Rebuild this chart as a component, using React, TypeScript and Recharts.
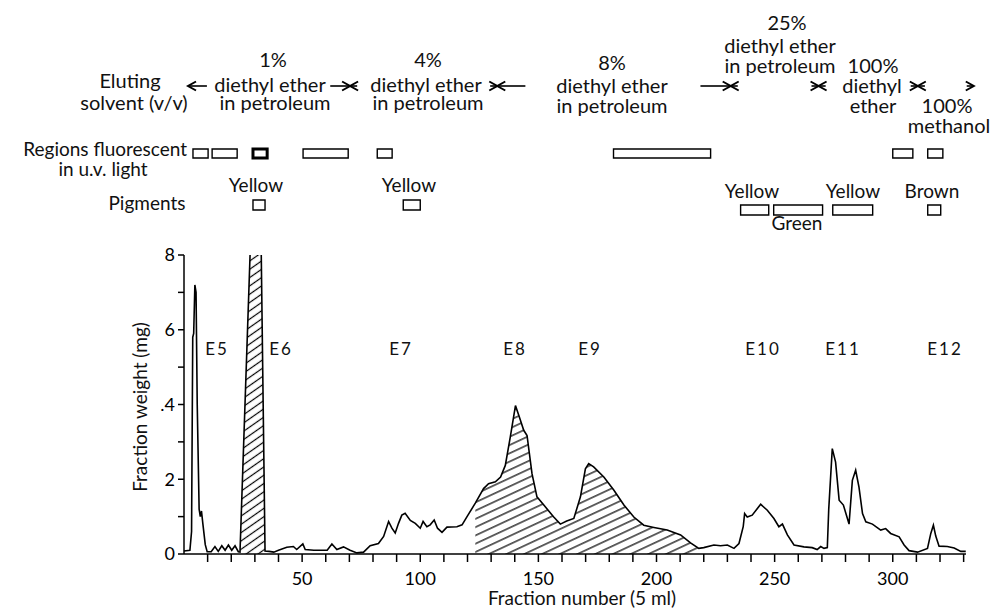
import React from 'react';
import { ComposedChart, Line, Area, XAxis, YAxis, ReferenceArea, ReferenceLine } from 'recharts';

// ---- data ----
const fractionNumber = [
  0, 2.5, 3.2, 3.7, 4.1, 4.6, 5.1, 5.6, 6.4, 6.9, 7.4, 8.0, 9.0, 9.8, 11.5, 13.1, 14.5, 16.0, 17.4, 18.8,
  20.2, 21.6, 23.0, 23.7, 28.5, 32.5, 34.3, 36, 38, 40, 43.5, 46.3, 47.7, 50.3, 51.3, 55, 60.6, 62.6, 64.7, 67.5,
  70.3, 73.2, 76, 78.8, 82.3, 84.5, 86.6, 88, 89.4, 90.8, 92.2, 93.6, 95.8, 97.9, 100, 101.2, 102.8, 104.2, 105.9, 107.3,
  109.2, 111.3, 115.5, 117.7, 119.8, 123.3, 126.8, 128.9, 131.8, 134, 136, 138.1, 140.3, 141.7, 143.8, 145.2, 147.3, 149.4, 152.3, 156.5,
  159.3, 162, 165, 167.8, 169.9, 171.3, 173.4, 177.7, 181.9, 186.2, 190.4, 194.6, 198.9, 204.5, 210.2, 214.4, 217.9, 220, 224.3, 227.1,
  230, 232.8, 234.9, 236.7, 237.3, 238.4, 240.5, 244.1, 246.9, 249.7, 251.8, 253.3, 255.4, 258.2, 262.4, 265.9, 268, 269.5, 270.9, 272.3,
  272.9, 274.4, 275.8, 277.3, 279.1, 281.5, 282.9, 284.3, 285.7, 287.2, 288.6, 291.4, 294.9, 297, 299.1, 302.7, 304.8, 306.9, 310.5, 314.7,
  316.1, 317.2, 318.2, 319.6, 323.1, 326, 328.8, 330.9,
];
const fractionWeight = [
  0.08, 0.1, 0.6, 5.8, 5.9, 7.2, 7.0, 4.0, 1.2, 1.0, 1.15, 0.8, 0.25, 0.06, 0.06, 0.2, 0.07, 0.22, 0.1, 0.24,
  0.1, 0.22, 0.06, 0.05, 9, 9, 0.08, 0.07, 0.05, 0.1, 0.18, 0.2, 0.12, 0.27, 0.12, 0.1, 0.1, 0.27, 0.12, 0.19,
  0.1, 0.03, 0.05, 0.22, 0.28, 0.47, 0.87, 0.69, 0.56, 0.82, 1.04, 1.09, 0.9, 0.82, 0.69, 0.87, 0.73, 0.78, 0.91, 0.69,
  0.58, 0.72, 0.73, 0.78, 1.0, 1.36, 1.75, 1.88, 1.93, 2.06, 2.37, 3.13, 3.97, 3.71, 3.31, 3.17, 2.15, 1.53, 1.31, 0.99,
  0.8, 0.88, 0.95, 1.53, 2.28, 2.42, 2.33, 2.06, 1.71, 1.31, 0.99, 0.77, 0.71, 0.64, 0.51, 0.3, 0.15, 0.17, 0.24, 0.22,
  0.24, 0.15, 0.28, 0.73, 1.08, 0.99, 1.04, 1.33, 1.17, 0.95, 0.73, 0.8, 0.51, 0.24, 0.19, 0.17, 0.12, 0.2, 0.15, 0.17,
  1.2, 2.82, 2.46, 1.44, 1.31, 0.8, 1.97, 2.24, 1.79, 1.08, 0.86, 0.8, 0.64, 0.68, 0.55, 0.46, 0.24, 0.09, 0.05, 0.15,
  0.55, 0.77, 0.48, 0.21, 0.2, 0.16, 0.07, 0.07,
];
const hatchE6 = [23.7, 34.3];
const hatchE8E9 = [123.3, 217.9];

const xTicks = [10, 20, 30, 40, 50, 60, 70, 80, 90, 100, 110, 120, 130, 140, 150, 160, 170, 180, 190, 200, 210, 220, 230, 240, 250, 260, 270, 280, 290, 300, 310, 320, 330];
const xTickLabels = [50, 100, 150, 200, 250, 300];
const yTicks = [0, 1, 2, 3, 4, 5, 6, 7, 8];
const yTickLabels: Record<number, string> = { 0: '0', 2: '2', 4: '.4', 6: '6', 8: '8' };

// regions fluorescent in u.v. light (fraction ranges)
const fluorescentFrom = [3.8, 11.9, 29.2, 50.4, 81.8, 181.8, 300, 314.8];
const fluorescentTo = [10.2, 22.5, 35.2, 69.5, 88.1, 222.9, 308.5, 321.2];
const fluorescentBold = [false, false, true, false, false, false, false, false];
// pigment bands (fraction ranges)
const pigmentFrom = [29.2, 92.8, 235.6, 249.6, 274.6, 314.8];
const pigmentTo = [34.3, 100, 247.5, 270.3, 291.5, 320.3];
// solvent change points (fraction numbers)
const solventChanges = [1.7, 70.3, 132.6, 231.4, 268.6, 310.6, 334.3];

const data = fractionNumber.map((x, i) => {
  const y = fractionWeight[i];
  return {
    x,
    y,
    e6: x >= hatchE6[0] && x <= hatchE6[1] ? y : null,
    e89: x >= hatchE8E9[0] && x <= hatchE8E9[1] ? y : null,
  };
});

// layout helpers (annotation rows placed above the plot in value units)
const PLOT_BOTTOM = 554;
const PX_PER_UNIT = 299 / 8;
const rowY = (py: number) => (PLOT_BOTTOM - py) / PX_PER_UNIT;

const FONT = 'Lato, "Noto Sans", sans-serif';

type Arrow = { a: number; b: number; tip: 'left' | 'right' };
const arrows: Arrow[] = [
  { a: solventChanges[0], b: 9.7, tip: 'left' },
  { a: 61.9, b: solventChanges[1], tip: 'right' },
  { a: solventChanges[1], b: 73.3, tip: 'left' },
  { a: 129.6, b: solventChanges[2], tip: 'right' },
  { a: solventChanges[2], b: 144.5, tip: 'left' },
  { a: 218.6, b: solventChanges[3], tip: 'right' },
  { a: solventChanges[3], b: 234.4, tip: 'left' },
  { a: 265.6, b: solventChanges[4], tip: 'right' },
  { a: solventChanges[4], b: 271.6, tip: 'left' },
  { a: 307.6, b: solventChanges[5], tip: 'right' },
  { a: solventChanges[5], b: 313.6, tip: 'left' },
  { a: 331.3, b: solventChanges[6], tip: 'right' },
];

const arrowShape = (tip: 'left' | 'right') => (p: any) => {
  const { x1, y1, x2 } = p;
  const tx = tip === 'left' ? Math.min(x1, x2) : Math.max(x1, x2);
  const d = tip === 'left' ? 8 : -8;
  return (
    <g>
      <line x1={x1} y1={y1} x2={x2} y2={y1} stroke="#000" strokeWidth={1.6} />
      <path d={`M${tx + d},${y1 - 4.5} L${tx},${y1} L${tx + d},${y1 + 4.5}`} fill="none" stroke="#000" strokeWidth={2} />
    </g>
  );
};

type T = { t: string; x: number; y: number; anchor?: 'start' | 'middle' | 'end'; size?: number };
const texts: T[] = [
  { t: '25%', x: 787, y: 30 },
  { t: 'diethyl ether', x: 780, y: 53 },
  { t: 'in petroleum', x: 780, y: 73 },
  { t: '1%', x: 273, y: 67 },
  { t: '4%', x: 428, y: 67 },
  { t: '8%', x: 612, y: 70 },
  { t: '100%', x: 873, y: 73 },
  { t: 'Eluting', x: 130, y: 88 },
  { t: 'diethyl ether', x: 270, y: 92 },
  { t: 'diethyl ether', x: 426, y: 92 },
  { t: 'diethyl ether', x: 612, y: 93 },
  { t: 'diethyl', x: 872, y: 93 },
  { t: 'solvent  (v/v)', x: 134, y: 110 },
  { t: 'in petroleum', x: 275, y: 110 },
  { t: 'in petroleum', x: 428, y: 110 },
  { t: 'in petroleum', x: 612, y: 113 },
  { t: 'ether', x: 873, y: 113 },
  { t: '100%', x: 947, y: 113 },
  { t: 'methanol', x: 949, y: 133 },
  { t: 'Regions fluorescent', x: 187, y: 156, anchor: 'end', size: 19 },
  { t: 'in u.v. light', x: 103, y: 176, size: 19 },
  { t: 'Yellow', x: 256, y: 192, size: 19 },
  { t: 'Yellow', x: 409, y: 192, size: 19 },
  { t: 'Pigments', x: 147, y: 210, size: 19 },
  { t: 'Yellow', x: 752, y: 198, size: 19 },
  { t: 'Yellow', x: 853, y: 198, size: 19 },
  { t: 'Brown', x: 932, y: 198, size: 19 },
  { t: 'Green', x: 797, y: 230, size: 19 },
];
const peakLabels = ['E5', 'E6', 'E7', 'E8', 'E9', 'E10', 'E11', 'E12'];
const peakLabelX = [217, 281, 401, 515, 590, 763, 843, 945];

export default function App() {
  return (
    <div style={{ position: 'absolute', left: 0, top: 0, width: 992, height: 610, background: '#fff' }}>
      <ComposedChart
        width={992}
        height={610}
        data={data}
        margin={{ top: 255, right: 26, bottom: 26, left: 124 }}
      >
        <defs>
          <pattern id="hatchSteep" patternUnits="userSpaceOnUse" width="10" height="6.8" patternTransform="rotate(-35)">
            <line x1="0" y1="3.4" x2="10" y2="3.4" stroke="#000" strokeWidth="1.2" />
          </pattern>
          <pattern id="hatchShallow" patternUnits="userSpaceOnUse" width="10" height="7.5" patternTransform="rotate(-25)">
            <line x1="0" y1="3.7" x2="10" y2="3.7" stroke="#000" strokeWidth="1.2" />
          </pattern>
        </defs>
        <XAxis
          dataKey="x"
          type="number"
          domain={[0, 331]}
          ticks={xTicks}
          interval={0}
          tickFormatter={(v: number) => (xTickLabels.includes(v) ? String(v) : '')}
          tickSize={8}
          tickMargin={10}
          stroke="#000"
          strokeWidth={1.5}
          tick={{ fontSize: 18, fill: '#000', fontFamily: FONT }}
          height={30}
        />
        <YAxis
          type="number"
          domain={[0, 8]}
          allowDataOverflow
          ticks={yTicks}
          interval={0}
          tickFormatter={(v: number) => yTickLabels[v] ?? ''}
          tickSize={6}
          tickMargin={3}
          stroke="#000"
          strokeWidth={1.5}
          tick={{ fontSize: 18, fill: '#000', fontFamily: FONT }}
          width={60}
        />
        <Area dataKey="e6" type="linear" fill="url(#hatchSteep)" fillOpacity={1} stroke="none" dot={false} activeDot={false} connectNulls={false} isAnimationActive={false} />
        <Area dataKey="e89" type="linear" fill="url(#hatchShallow)" fillOpacity={1} stroke="none" dot={false} activeDot={false} connectNulls={false} isAnimationActive={false} />
        <Line dataKey="y" type="linear" stroke="#000" strokeWidth={1.6} dot={false} activeDot={false} isAnimationActive={false} />
        {fluorescentFrom.map((f, i) => (
          <ReferenceArea
            key={'fl' + i}
            x1={f}
            x2={fluorescentTo[i]}
            y1={rowY(149)}
            y2={rowY(158)}
            ifOverflow="visible"
            fill="none"
            stroke="#000"
            strokeWidth={fluorescentBold[i] ? 3 : 1.4}
          />
        ))}
        {pigmentFrom.map((f, i) => (
          <ReferenceArea
            key={'pg' + i}
            x1={f}
            x2={pigmentTo[i]}
            y1={rowY(i < 2 ? 200 : 205)}
            y2={rowY(i < 2 ? 210 : 215)}
            ifOverflow="visible"
            fill="none"
            stroke="#000"
            strokeWidth={1.4}
          />
        ))}
        {arrows.map((ar, i) => (
          <ReferenceLine
            key={'ar' + i}
            segment={[{ x: ar.a, y: rowY(86) }, { x: ar.b, y: rowY(86) }]}
            ifOverflow="visible"
            stroke="#000"
            shape={arrowShape(ar.tip)}
          />
        ))}
      </ComposedChart>
      <svg width={992} height={610} style={{ position: 'absolute', left: 0, top: 0, pointerEvents: 'none' }}>
        <g fontFamily={FONT} fill="#111">
          {texts.map((t, i) => (
            <text key={i} x={t.x} y={t.y} fontSize={t.size ?? 20} textAnchor={t.anchor ?? 'middle'}>{t.t}</text>
          ))}
        </g>
        <g fontFamily={FONT} fontSize={17} fill="#111" letterSpacing={2}>
          {peakLabels.map((l, i) => (
            <text key={l} x={peakLabelX[i]} y={355} textAnchor="middle">{l}</text>
          ))}
        </g>
        <g fontFamily={FONT} fontSize={19} fill="#111">
          <text x={582} y={605} textAnchor="middle">Fraction number (5 ml)</text>
          <text transform="translate(147,407) rotate(-90)" textAnchor="middle">Fraction weight (mg)</text>
        </g>
      </svg>
    </div>
  );
}
